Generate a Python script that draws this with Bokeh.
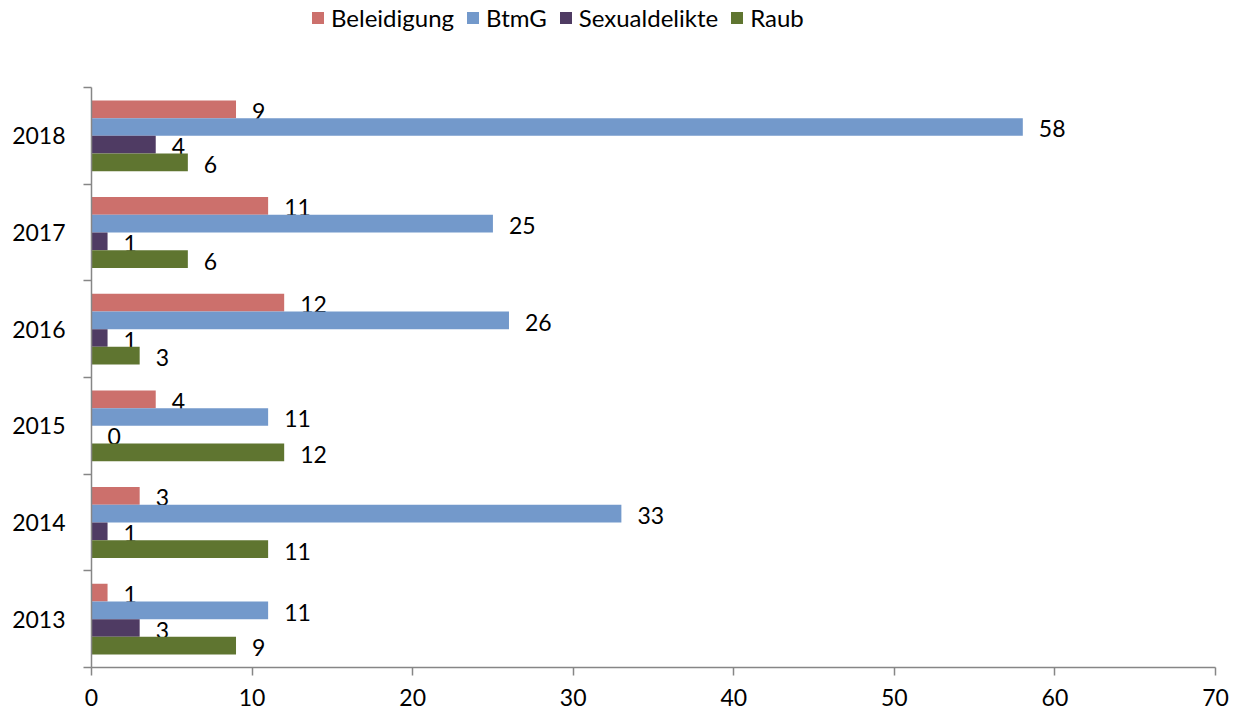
from bokeh.plotting import figure
from bokeh.models import FixedTicker, Legend, LegendItem, ColumnDataSource, Range1d
from bokeh.core.properties import value
from bokeh.embed import file_html
from bokeh.resources import INLINE

years = ["2013", "2014", "2015", "2016", "2017", "2018"]
series = ["Beleidigung", "BtmG", "Sexualdelikte", "Raub"]
beleidigung = [1, 3, 4, 12, 11, 9]
btmg = [11, 33, 11, 26, 25, 58]
sexualdelikte = [3, 1, 0, 1, 1, 4]
raub = [9, 11, 12, 3, 6, 6]
colors = ["#CC706C", "#7399CB", "#4F3B63", "#5F7530"]
x_ticks = [0, 10, 20, 30, 40, 50, 60, 70]

FONT = "Lato"
FS = "23px"

FRAME_W = 1124
FRAME_H = 667      # includes the legend strip above the plotting area
PLOT_H = 580       # height of the part that holds the bars
n = len(years)
y_end = n * FRAME_H / PLOT_H

p = figure(frame_width=FRAME_W, frame_height=FRAME_H, output_backend="svg",
           toolbar_location=None,
           x_range=Range1d(0, 70), y_range=Range1d(0, y_end),
           min_border_left=91, min_border_top=0, min_border_right=26, min_border_bottom=44)
p.outline_line_color = None
p.xgrid.visible = False
p.ygrid.visible = False
p.background_fill_color = "white"

bar_h = 0.183
values = [beleidigung, btmg, sexualdelikte, raub]
renderers = []
for k, (name, vals, col) in enumerate(zip(series, values, colors)):
    ys = [i + 0.5 + (1.5 - k) * bar_h for i in range(n)]
    src = ColumnDataSource(dict(y=ys, v=vals, t=[str(v) for v in vals]))
    r = p.hbar(y="y", right="v", left=0, height=bar_h, source=src,
               fill_color=col, line_color=None)
    renderers.append(r)
    p.text(x="v", y="y", text="t", source=src, x_offset=16, y_offset=2,
           text_font=value(FONT), text_font_size=FS, text_color="black",
           text_baseline="middle", text_align="left")

ax = p.xaxis[0]
ax.ticker = FixedTicker(ticks=x_ticks)
ax.axis_line_color = "#868686"
ax.axis_line_width = 1.5
ax.major_tick_line_color = "#868686"
ax.major_tick_line_width = 1.5
ax.major_tick_out = 8
ax.major_tick_in = 0
ax.minor_tick_line_color = None
ax.major_label_text_font = FONT
ax.major_label_text_font_size = FS
ax.major_label_text_color = "black"
ax.major_label_standoff = 13

ay = p.yaxis[0]
ay.bounds = (0, n)
ay.ticker = FixedTicker(ticks=[i + 0.5 for i in range(n)],
                        minor_ticks=list(range(n + 1)))
ay.major_label_overrides = {i + 0.5: y for i, y in enumerate(years)}
ay.axis_line_color = "#868686"
ay.axis_line_width = 1.5
ay.major_tick_line_color = None
ay.major_tick_out = 0
ay.major_tick_in = 0
ay.minor_tick_line_color = "#868686"
ay.minor_tick_line_width = 1.5
ay.minor_tick_out = 8
ay.minor_tick_in = 0
ay.major_label_text_font = FONT
ay.major_label_text_font_size = FS
ay.major_label_text_color = "black"
ay.major_label_standoff = 18

legend = Legend(items=[LegendItem(label=s, renderers=[r]) for s, r in zip(series, renderers)],
                orientation="horizontal", location=(219, FRAME_H - 32),
                glyph_width=15, glyph_height=15, label_height=24,
                label_standoff=6, spacing=11, padding=0, margin=0,
                label_text_font=FONT, label_text_font_size="24px", label_text_color="black",
                background_fill_alpha=0, border_line_alpha=0)
p.add_layout(legend, "center")

open("out.html", "w").write(file_html(p, INLINE))
